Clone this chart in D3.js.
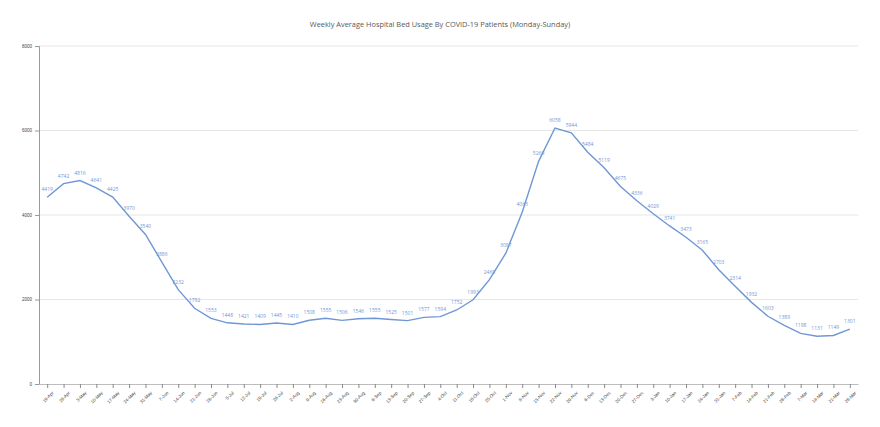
<!DOCTYPE html>
<html lang="en">
<head>
  <meta charset="UTF-8">
  <title>Weekly Average Hospital Bed Usage</title>
  <style>
    body {
      margin: 0;
      padding: 0;
      background: #fff;
      font-family: "Open Sans", Arial, sans-serif;
    }
  </style>
</head>
<body>
  <svg id="line-chart" width="880" height="427"></svg>
  <script src="https://d3js.org/d3.v7.min.js"></script>
  <script>
    const weeks = ['19-Apr', '26-Apr', '3-May', '10-May', '17-May', '24-May', '31-May', '7-Jun', '14-Jun', '21-Jun',
      '28-Jun', '5-Jul', '12-Jul', '19-Jul', '26-Jul', '2-Aug', '9-Aug', '16-Aug', '23-Aug', '30-Aug',
      '6-Sep', '13-Sep', '20-Sep', '27-Sep', '4-Oct', '11-Oct', '18-Oct', '25-Oct', '1-Nov', '8-Nov',
      '15-Nov', '22-Nov', '29-Nov', '6-Dec', '13-Dec', '20-Dec', '27-Dec', '3-Jan', '10-Jan', '17-Jan',
      '24-Jan', '31-Jan', '7-Feb', '14-Feb', '21-Feb', '28-Feb', '7-Mar', '14-Mar', '21-Mar', '28-Mar'];

    const beds = [4419, 4742, 4816, 4641, 4425, 3970, 3540, 2886, 2232, 1792,
      1553, 1448, 1421, 1409, 1445, 1410, 1508, 1555, 1506, 1546,
      1555, 1525, 1501, 1577, 1594, 1752, 1993, 2469, 3097, 4063,
      5269, 6058, 5944, 5484, 5119, 4675, 4336, 4029, 3741, 3473,
      3165, 2703, 2314, 1932, 1603, 1389, 1198, 1131, 1149, 1301];

    const yTicks = [0, 2000, 4000, 6000, 8000];

    const data = weeks.map((w, i) => ({ week: w, value: beds[i] }));

    const margin = { top: 46, right: 22, bottom: 43, left: 39 };
    const width = 880 - margin.left - margin.right;
    const height = 427 - margin.top - margin.bottom;

    const svg = d3.select('#line-chart')
      .append('g')
      .attr('transform', `translate(${margin.left}, ${margin.top})`);

    const xScale = d3.scalePoint()
      .domain(weeks)
      .range([0, width])
      .padding(0.5);

    const yScale = d3.scaleLinear()
      .domain([0, 8000])
      .range([height, 0]);

    // Gridlines
    svg.append('g')
      .selectAll('line')
      .data(yTicks.slice(1))
      .enter()
      .append('line')
      .attr('x1', 0)
      .attr('x2', width)
      .attr('y1', d => yScale(d))
      .attr('y2', d => yScale(d))
      .attr('stroke', '#e6e6e6')
      .attr('stroke-width', 1);

    // Y axis
    const yAxis = svg.append('g')
      .call(d3.axisLeft(yScale).tickValues(yTicks).tickFormat(d3.format('d')).tickSize(4).tickPadding(3));
    yAxis.select('.domain').attr('stroke', '#9a9a9a');
    yAxis.selectAll('.tick line').attr('stroke', '#9a9a9a');
    yAxis.selectAll('text')
      .attr('fill', '#444')
      .style('font-size', '4.5px');

    // X axis
    const xAxis = svg.append('g')
      .attr('transform', `translate(0, ${height})`)
      .call(d3.axisBottom(xScale).tickSize(4).tickSizeOuter(0));
    xAxis.select('.domain').attr('stroke', '#bdbdbd').attr('stroke-width', 1.2);
    xAxis.selectAll('.tick line').attr('stroke', '#888');
    xAxis.selectAll('text')
      .attr('fill', '#444')
      .style('font-size', '4.5px')
      .attr('text-anchor', 'end')
      .attr('dx', '-2px')
      .attr('dy', '4px')
      .attr('transform', 'rotate(-45)');

    // Line
    const line = d3.line()
      .x(d => xScale(d.week))
      .y(d => yScale(d.value));

    svg.append('path')
      .datum(data)
      .attr('d', line)
      .attr('fill', 'none')
      .attr('stroke', '#6f97d6')
      .attr('stroke-width', 1.4);

    // Data labels
    svg.selectAll('.lbl')
      .data(data)
      .enter()
      .append('text')
      .attr('class', 'lbl')
      .attr('x', d => xScale(d.week))
      .attr('y', d => yScale(d.value) - 6)
      .attr('text-anchor', 'middle')
      .attr('fill', '#6f97d6')
      .style('font-size', '5px')
      .text(d => d.value);

    // Title
    d3.select('#line-chart').append('text')
      .attr('x', 440)
      .attr('y', 27)
      .attr('text-anchor', 'middle')
      .attr('fill', '#595959')
      .style('font-size', '7.4px')
      .text('Weekly Average Hospital Bed Usage By COVID-19 Patients (Monday-Sunday)');
  </script>
</body>
</html>
